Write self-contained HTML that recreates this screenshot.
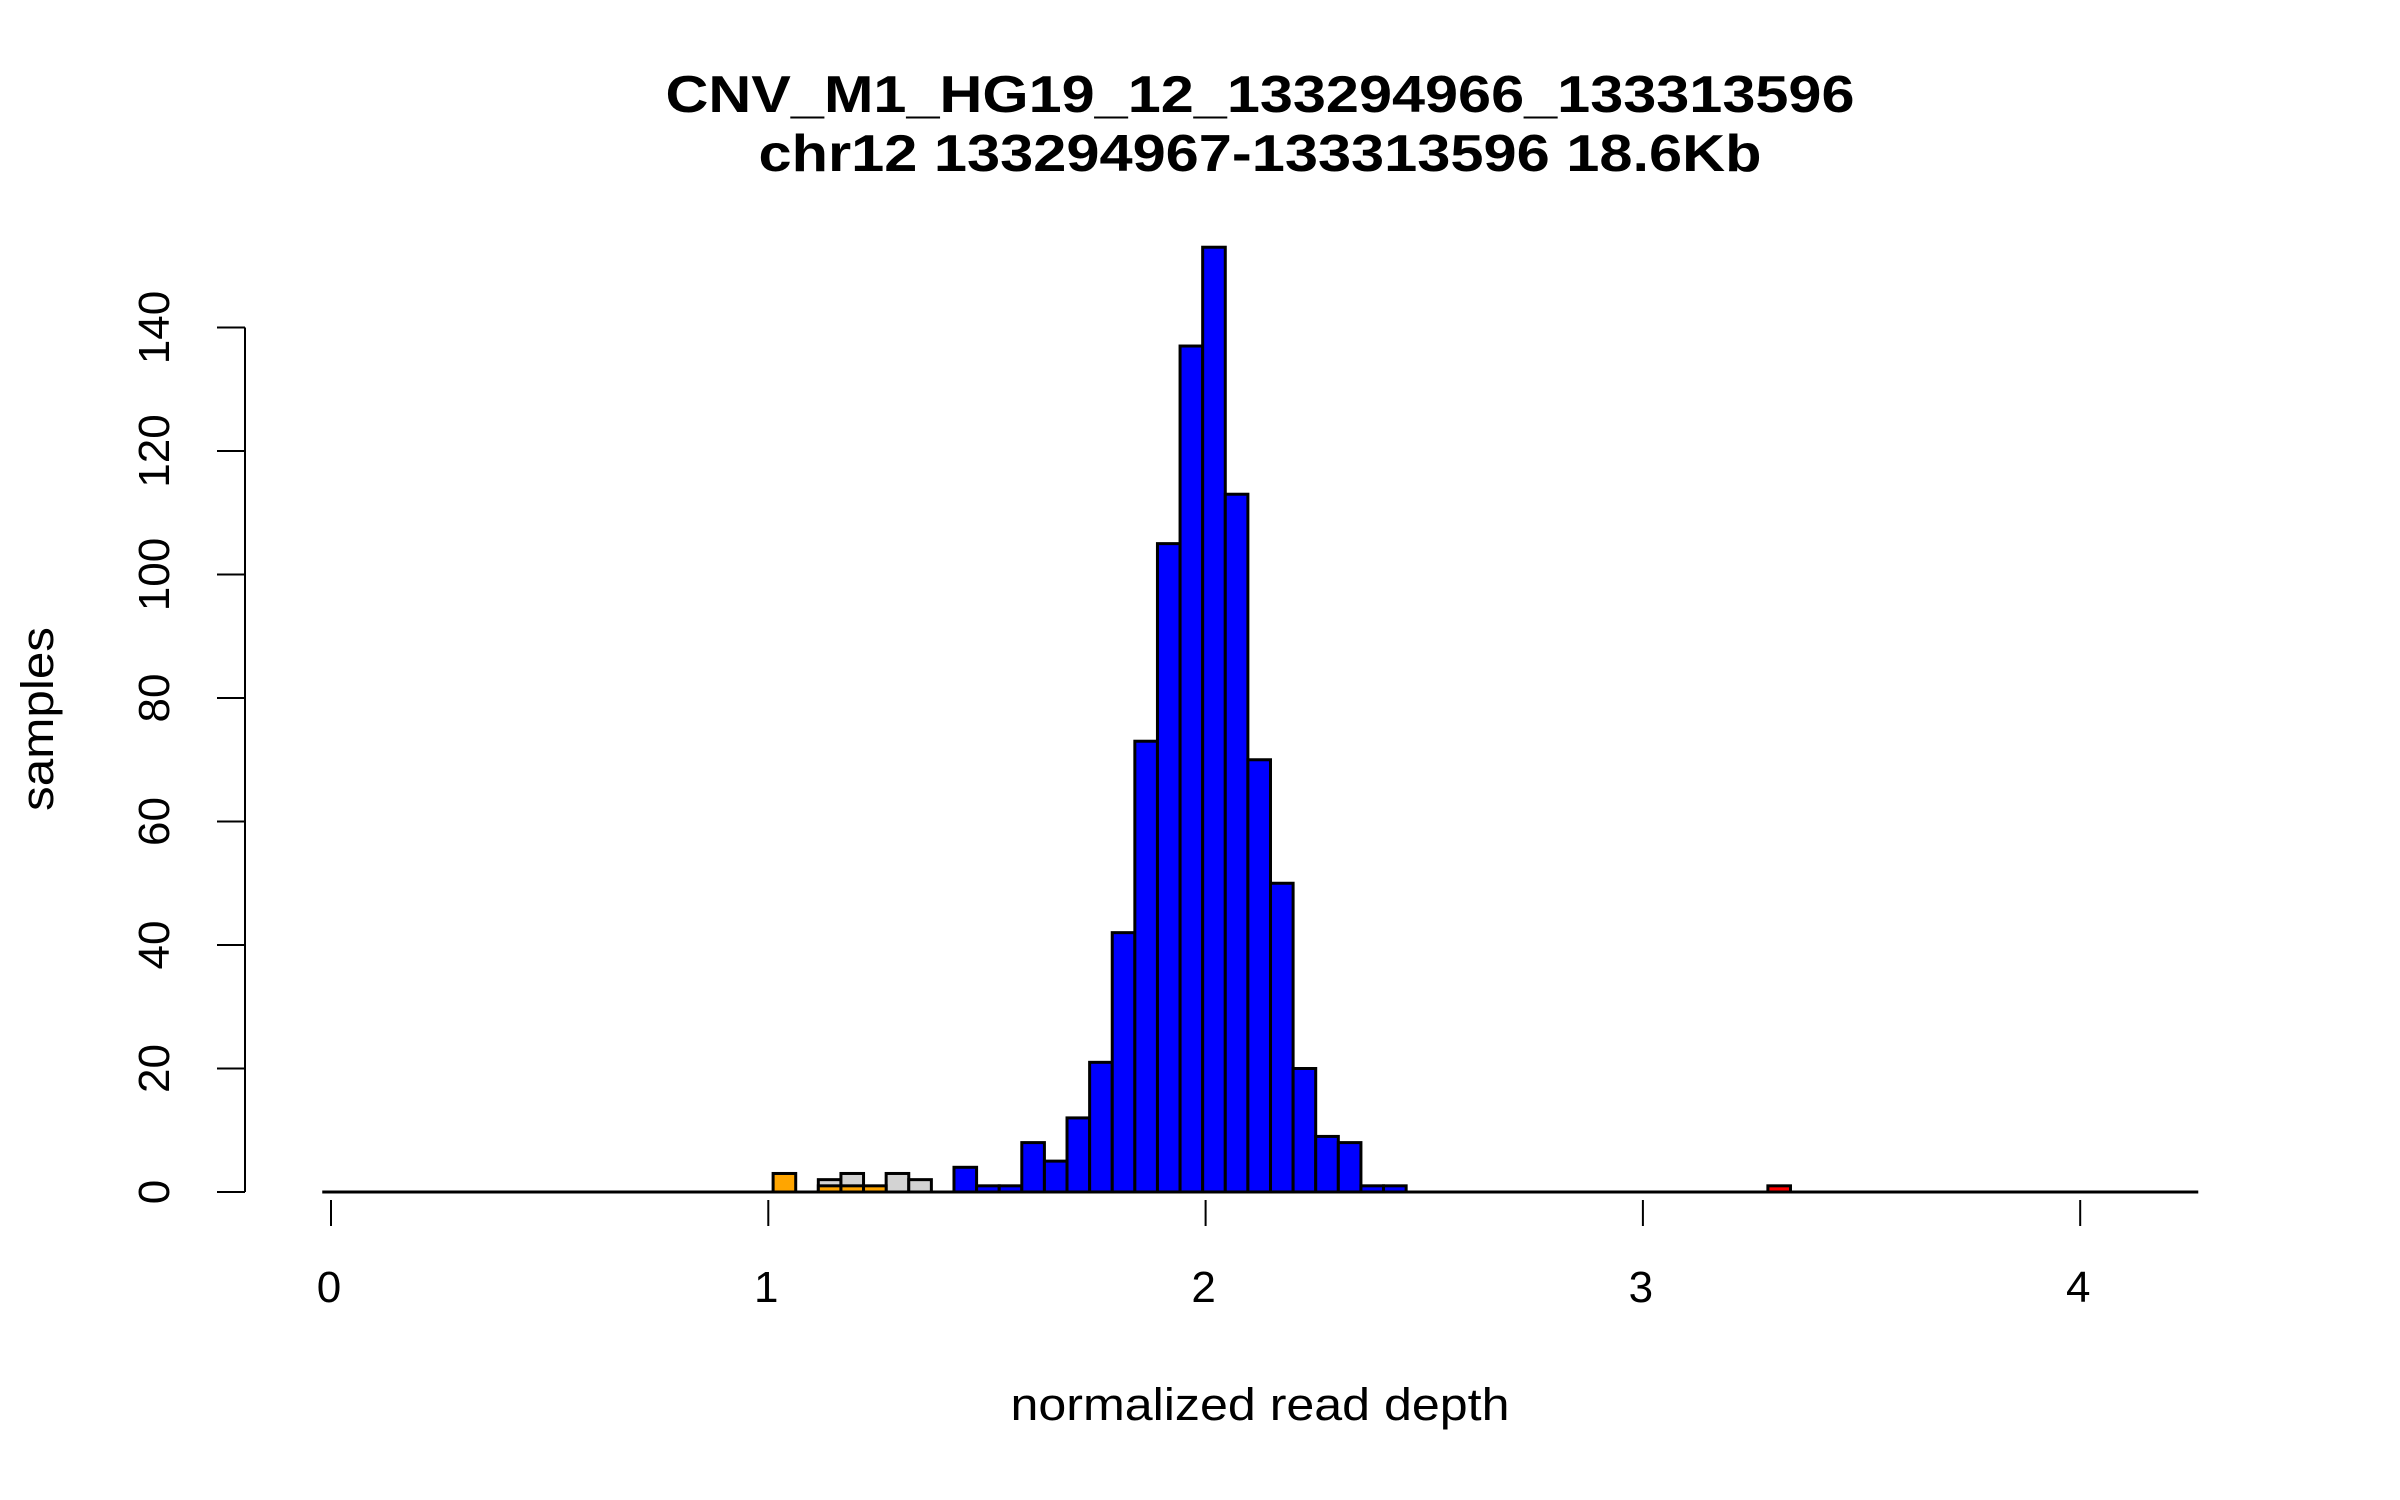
<!DOCTYPE html>
<html><head><meta charset="utf-8"><style>
html,body{margin:0;padding:0;background:#fff}
svg{display:block}
text{font-family:"Liberation Sans",Arial,sans-serif;fill:#000}
</style></head><body>
<svg id="chart" width="2400" height="1500" viewBox="0 0 2400 1500" xmlns="http://www.w3.org/2000/svg">
<text x="1260" y="112" font-size="52" font-weight="bold" text-anchor="middle" textLength="1189" lengthAdjust="spacingAndGlyphs">CNV_M1_HG19_12_133294966_133313596</text>
<text x="1260" y="171" font-size="52" font-weight="bold" text-anchor="middle" textLength="1003" lengthAdjust="spacingAndGlyphs">chr12 133294967-133313596 18.6Kb</text>
<text x="1260" y="1420" font-size="45" text-anchor="middle" textLength="499" lengthAdjust="spacingAndGlyphs">normalized read depth</text>
<text transform="translate(53,719) rotate(-90)" font-size="45" text-anchor="middle" textLength="184" lengthAdjust="spacingAndGlyphs">samples</text>
<g id="bars"></g>
<g id="axes"></g>
</svg>
<script>
const binStart = 1.011;
const binWidth = 0.0517;
const grayBins = [2,3,5,6];
const grayCounts = [2,3,3,2];
const orangeBins = [0,2,3,4];
const orangeCounts = [3,1,1,1];
const blueBins = [8,9,10,11,12,13,14,15,16,17,18,19,20,21,22,23,24,25,26,27];
const blueCounts = [4,1,1,8,5,12,21,42,73,105,137,153,113,70,50,20,9,8,1,1];
const redBins = [44];
const redCounts = [1];
const xTicks = [0,1,2,3,4];
const yTicks = [0,20,40,60,80,100,120,140];

const NS = "http://www.w3.org/2000/svg";
const xScale = v => 331 + v * 437.3;
const yScale = v => 1192 - v * 6.175;
const bars = document.getElementById('bars');
const axes = document.getElementById('axes');
function mk(tag, attrs, parent){
  const e = document.createElementNS(NS, tag);
  for (const k in attrs) e.setAttribute(k, attrs[k]);
  parent.appendChild(e);
  return e;
}
const base = mk('line', {x1: xScale(-0.02), x2: xScale(4.27), y1: yScale(0), y2: yScale(0), stroke:'#000', 'stroke-width':3}, bars);



function drawSeries(bins, counts, color, name){
  bins.forEach((b, i) => {
    const x0 = xScale(binStart + b * binWidth);
    const x1 = xScale(binStart + (b + 1) * binWidth);
    const y = yScale(counts[i]);
    const r = mk('rect', {x: x0, y: y, width: x1 - x0, height: yScale(0) - y, fill: color, stroke: '#000', 'stroke-width': 3}, bars);
    
    
  });
}
drawSeries(grayBins, grayCounts, '#d3d3d3', 'gray');
drawSeries(orangeBins, orangeCounts, '#ffa500', 'orange');
drawSeries(blueBins, blueCounts, '#0000ff', 'blue');
drawSeries(redBins, redCounts, '#ff0000', 'red');

const yl = mk('line', {x1: 245, x2: 245, y1: yScale(yTicks[yTicks.length-1]), y2: yScale(0), stroke: '#000', 'stroke-width': 2}, axes);


yTicks.forEach(t => {
  const y = yScale(t);
  const l = mk('line', {x1: 217, x2: 245, y1: y, y2: y, stroke: '#000', 'stroke-width': 2}, axes);
  
  
  const tx = mk('text', {transform: 'translate(169,' + y + ') rotate(-90)', 'font-size': 44, 'text-anchor': 'middle'}, axes);
  tx.textContent = String(t);
  
  
});
xTicks.forEach(t => {
  const x = xScale(t);
  const l = mk('line', {x1: x, x2: x, y1: 1200, y2: 1226, stroke: '#000', 'stroke-width': 2}, axes);
  
  
  const tx = mk('text', {x: x - 2, y: 1302, 'font-size': 44, 'text-anchor': 'middle'}, axes);
  tx.textContent = String(t);
  
  
});
</script>
</body></html>
